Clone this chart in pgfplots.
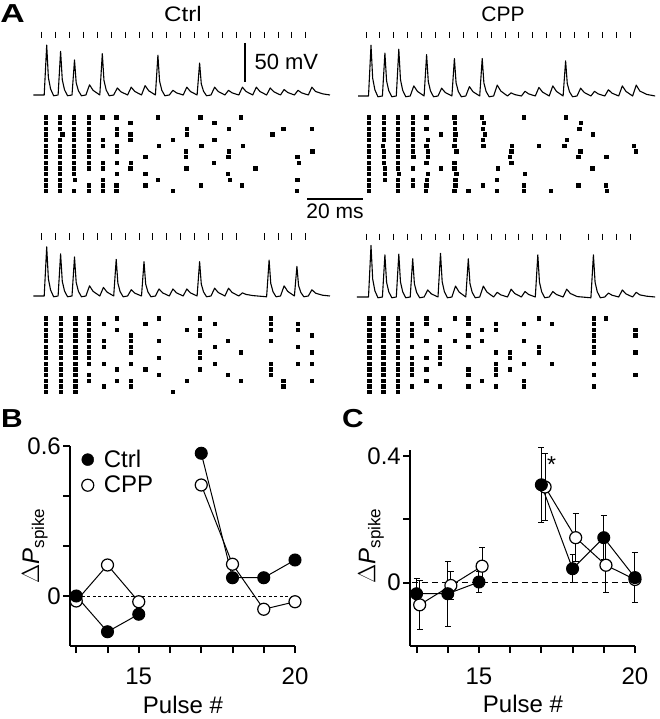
\documentclass[border=0pt]{standalone}
\usepackage{pgfplots}
\pgfplotsset{compat=1.18}
\usepackage{fontspec}
\setmainfont{Liberation Sans}
\pgfplotsset{
  trace/.style={hide axis, x=2.78pt, y=0.78pt, xmin=-4, xmax=105, ymin=-10, ymax=85, clip=false, anchor=south west},
  raster/.style={hide axis, x=2.78pt, y=5.65pt, xmin=-4, xmax=105, ymin=-15, ymax=0, clip=false, anchor=south west},
  tr/.style={black, line width=1.1pt, line join=round},
  stim/.style={only marks, mark=|, mark size=3.3pt, mark options={line width=0.9pt}},
  dots/.style={only marks, mark=square*, mark size=1.65pt},
  panel/.style={anchor=south west, axis lines*=left, axis line style={-, line width=2.5pt},
    tick align=outside, major tick length=7pt, tick style={line width=2pt, black},
    ticklabel style={font=\fontsize{24}{28}\selectfont},
    xticklabel style={yshift=-11pt}, yticklabel style={inner sep=2pt},
    xtick={13,...,20}, xticklabels={,,15,,,,,20},
    xlabel={Pulse \#}, label style={font=\fontsize{24}{28}\selectfont},
    clip=false},
  ctrl/.style={black, line width=1pt, mark=*, mark size=6pt, mark options={fill=black, line width=1pt}},
  cpp/.style={black, line width=1pt, mark=*, mark size=6pt, mark options={fill=white, draw=black, line width=1.2pt}},
}
\newcommand{\dP}{$\Delta$\textit{P}\raisebox{-0.4ex}{\fontsize{17}{17}\selectfont spike}}
\begin{document}
\begin{tikzpicture}[x=1pt,y=1pt]
\useasboundingbox (0pt,0pt) rectangle (659pt,719pt);
% ---------------- Panel A ----------------
\node[font=\fontsize{26}{28}\selectfont\bfseries] at (12.5pt,705.5pt) {\scalebox{1.3}[1]{A}};
\node[font=\fontsize{21}{24}\selectfont] at (183pt,705pt) {\scalebox{1.15}[1]{Ctrl}};
\node[font=\fontsize{21}{24}\selectfont] at (503pt,705pt) {CPP};

% Ctrl top trace
\begin{axis}[trace, at={(30.58pt,616.2pt)}]
\addplot[stim] coordinates {(0,77)(5,77)(10,77)(15,77)(20,77)(25,77)(30,77)(35,77)(40,77)(45,77)(50,77)(55,77)(60,77)(65,77)(70,77)(75,77)(80,77)(85,77)(90,77)(95,77)};
\addplot[tr] coordinates {(-3,0)
(0.9,0)(1.8,64)(2.4,22.4)(3.2,7.7)(4.3,-1)
(5.9,0)(6.8,56)(7.4,19.6)(8.2,6.7)(9.3,-1)
(10.9,0)(11.8,45)(12.4,15.8)(13.2,5.4)(14.3,-1)
(15.9,0)(17.2,13)(18.5,5.9)
(20.9,0)(21.8,53)(22.4,18.6)(23.2,6.4)(24.3,-1)
(25.9,0)(27.2,9)(28.5,4.1)
(30.9,0)(32.2,10)(33.5,4.5)
(35.9,0)(37.2,12)(38.5,5.4)
(40.9,0)(41.8,51)(42.4,17.9)(43.2,6.1)(44.3,-1)
(45.9,0)(47.2,6)(48.5,2.7)
(50.9,0)(52.2,10)(53.5,4.5)
(55.9,0)(56.8,41)(57.4,14.4)(58.2,4.9)(59.3,-1)
(60.9,0)(62.2,10)(63.5,4.5)
(65.9,0)(67.2,6)(68.5,2.7)
(70.9,0)(72.2,10)(73.5,4.5)
(75.9,0)(77.2,10)(78.5,4.5)
(80.9,0)(82.2,9)(83.5,4.1)
(85.9,0)(87.2,7)(88.5,3.2)
(90.9,0)(92.2,6)(93.5,2.7)
(95.9,0)(97.2,10)(98.5,4.5)
(101,1.5)(103.7,0)};
\end{axis}
% CPP top trace
\begin{axis}[trace, at={(354.88pt,615.2pt)}]
\addplot[stim] coordinates {(0,78)(5,78)(10,78)(15,78)(20,78)(25,78)(30,78)(35,78)(40,78)(45,78)(50,78)(55,78)(60,78)(65,78)(70,78)(75,78)(80,78)(85,78)(90,78)(95,78)};
\addplot[tr] coordinates {(-2.8,0)
(0.9,0)(1.8,65)(2.4,22.8)(3.2,7.8)(4.3,-1)
(5.9,0)(6.8,55)(7.4,19.3)(8.2,6.6)(9.3,-1)
(10.9,0)(11.8,60)(12.4,21)(13.2,7.2)(14.3,-1)
(15.9,0)(17.2,13)(18.5,5.9)
(20.9,0)(21.8,53)(22.4,18.6)(23.2,6.4)(24.3,-1)
(25.9,0)(27.2,10)(28.5,4.5)
(30.9,0)(31.8,48)(32.4,16.8)(33.2,5.8)(34.3,-1)
(35.9,0)(37.2,12)(38.5,5.4)
(40.9,0)(41.8,48)(42.4,16.8)(43.2,5.8)(44.3,-1)
(45.9,0)(47.2,14)(48.5,6.3)
(50.9,0)(52.2,4)(53.5,1.8)
(55.9,0)(57.2,6)(58.5,2.7)
(60.9,0)(62.2,11)(63.5,5)
(65.9,0)(67.2,13)(68.5,5.9)
(70.9,0)(71.8,45)(72.4,15.8)(73.2,5.4)(74.3,-1)
(75.9,0)(77.2,10)(78.5,4.5)
(80.9,0)(82.2,6)(83.5,2.7)
(85.9,0)(87.2,8)(88.5,3.6)
(90.9,0)(92.2,13)(93.5,5.9)
(95.9,0)(97.2,14)(98.5,6.3)
(101,2)(104,0)};
\end{axis}
% Ctrl bottom trace
\begin{axis}[trace, at={(30.58pt,415.2pt)}]
\addplot[stim] coordinates {(0,76)(5,76)(10,76)(15,76)(20,76)(25,76)(30,76)(35,76)(40,76)(45,76)(50,76)(55,76)(60,76)(65,76)(70,76)(80,76)(85,76)(90,76)(95,76)};
\addplot[tr] coordinates {(-3,0)
(0.9,0)(1.8,63)(2.4,22)(3.2,7.6)(4.3,-1)
(5.9,0)(6.8,54)(7.4,18.9)(8.2,6.5)(9.3,-1)
(10.9,0)(11.8,50)(12.4,17.5)(13.2,6)(14.3,-1)
(15.9,0)(17.2,13)(18.5,5.9)
(20.9,0)(22.2,11)(23.5,5)
(25.9,0)(26.8,47)(27.4,16.5)(28.2,5.6)(29.3,-1)
(30.9,0)(32.2,8)(33.5,3.6)
(35.9,0)(36.8,44)(37.4,15.4)(38.2,5.3)(39.3,-1)
(40.9,0)(42.2,9)(43.5,4)
(45.9,0)(47.2,9)(48.5,4)
(50.9,0)(52.2,9)(53.5,4)
(55.9,0)(56.8,44)(57.4,15.4)(58.2,5.3)(59.3,-1)
(60.9,0)(62.2,10)(63.5,4.5)
(65.9,0)(67.2,10)(68.5,4.5)
(70.9,0)(72.2,4)(73.5,2)
(76,0.5)(80.9,-1)
(81.8,46)(82.4,16.1)(83.2,5.5)(84.3,-1)
(85.9,0)(87.2,13)(88.5,5.9)
(90.9,0)(91.8,38)(92.4,13.3)(93.2,4.6)(94.3,-1)
(95.9,0)(97.2,8)(98.5,3.6)
(101,1)(103.7,0)};
\end{axis}
% CPP bottom trace
\begin{axis}[trace, at={(354.88pt,414.2pt)}]
\addplot[stim] coordinates {(0,77)(5,77)(10,77)(15,77)(20,77)(25,77)(30,77)(35,77)(40,77)(45,77)(50,77)(55,77)(60,77)(65,77)(70,77)(80,77)(85,77)(90,77)(95,77)};
\addplot[tr] coordinates {(-3.3,0)
(0.9,0)(1.8,66)(2.4,23.1)(3.2,7.9)(4.3,-1)
(5.9,0)(6.8,54)(7.4,18.9)(8.2,6.5)(9.3,-1)
(10.9,0)(11.8,55)(12.4,19.3)(13.2,6.6)(14.3,-1)
(15.9,0)(16.8,49)(17.4,17.2)(18.2,5.9)(19.3,-1)
(20.9,0)(22.2,9)(23.5,4)
(25.9,0)(26.8,56)(27.4,19.6)(28.2,6.7)(29.3,-1)
(30.9,0)(32.2,14)(33.5,6.3)
(35.9,0)(36.8,49)(37.4,17.2)(38.2,5.9)(39.3,-1)
(40.9,0)(42.2,14)(43.5,6.3)
(45.9,0)(47.2,6)(48.5,2.7)
(50.9,0)(52.2,10)(53.5,4.5)
(55.9,0)(57.2,7)(58.5,3.2)
(60.9,0)(61.8,54)(62.4,18.9)(63.2,6.5)(64.3,-1)
(65.9,0)(67.2,7)(68.5,3.2)
(70.9,0)(72.2,10)(73.5,4.5)
(76,0.5)(80.9,-1)
(81.8,54)(82.4,18.9)(83.2,6.5)(84.3,-1)
(85.9,0)(87.2,5)(88.5,2.3)
(90.9,0)(92.2,9)(93.5,4)
(95.9,0)(97.2,6)(98.5,2.7)
(101,1)(104,0)};
\end{axis}

% Ctrl top raster
\begin{axis}[raster, at={(30.58pt,522.6pt)}]
\addplot[dots] coordinates {
(1.43,-1)(6.58,-1)(11.6,-1)(16.9,-1)(21.8,-1)(26.8,-1)(41.7,-1)(57.0,-1)(71.7,-1)
(1.43,-2)(6.58,-2)(11.6,-2)(16.9,-2)(31.8,-2)(62.1,-2)
(1.43,-3)(6.58,-3)(11.6,-3)(16.9,-3)(27.1,-3)(52.1,-3)(67.3,-3)(86.9,-3)(97.0,-3)
(1.43,-4)(7.42,-4)(11.6,-4)(16.9,-4)(27.1,-4)(31.8,-4)(52.1,-4)(82.9,-4)
(1.43,-5)(6.58,-5)(11.6,-5)(16.9,-5)(22.0,-5)(31.8,-5)(47.1,-5)(62.1,-5)
(1.43,-6)(6.58,-6)(11.6,-6)(16.9,-6)(22.0,-6)(27.1,-6)(42.1,-6)(57.4,-6)(72.2,-6)
(1.43,-7)(6.58,-7)(11.6,-7)(16.9,-7)(27.1,-7)(51.8,-7)(67.3,-7)(97.3,-7)
(1.43,-8)(6.58,-8)(11.6,-8)(16.9,-8)(37.2,-8)(51.8,-8)(67.1,-8)(91.9,-8)
(1.43,-9)(6.58,-9)(11.6,-9)(16.9,-9)(22.0,-9)(27.1,-9)(32.1,-9)(61.9,-9)(92.4,-9)
(1.43,-10)(6.58,-10)(11.6,-10)(16.9,-10)(22.0,-10)(31.8,-10)(52.0,-10)(76.8,-10)
(1.43,-11)(6.58,-11)(11.6,-11)(27.1,-11)(37.2,-11)(66.9,-11)
(1.43,-12)(6.58,-12)(11.9,-12)(22.0,-12)(41.7,-12)(67.5,-12)(91.9,-12)
(1.43,-13)(6.58,-13)(16.9,-13)(22.0,-13)(26.8,-13)(37.2,-13)(57.1,-13)(71.9,-13)
(1.43,-14)(6.58,-14)(11.6,-14)(16.9,-14)(22.0,-14)(26.8,-14)(47.1,-14)(91.8,-14)};
\end{axis}
% CPP top raster
\begin{axis}[raster, at={(354.88pt,522.6pt)}]
\addplot[dots] coordinates {
(1.08,-1)(6.36,-1)(11.4,-1)(16.8,-1)(21.6,-1)(31.7,-1)(41.6,-1)(56.8,-1)(71.9,-1)
(1.08,-2)(6.36,-2)(11.4,-2)(16.8,-2)(31.9,-2)(42.3,-2)(77.2,-2)
(1.08,-3)(6.36,-3)(11.4,-3)(16.8,-3)(21.6,-3)(31.9,-3)(42.0,-3)(76.7,-3)
(1.08,-4)(6.36,-4)(11.4,-4)(16.8,-4)(26.9,-4)(32.1,-4)(42.6,-4)(81.5,-4)
(1.08,-5)(6.36,-5)(11.4,-5)(16.8,-5)(22.1,-5)(31.9,-5)(42.0,-5)(72.3,-5)
(1.08,-6)(6.12,-6)(11.4,-6)(16.8,-6)(21.6,-6)(31.7,-6)(42.2,-6)(52.4,-6)(62.1,-6)(71.3,-6)(96.3,-6)
(1.08,-7)(6.36,-7)(11.4,-7)(16.8,-7)(22.1,-7)(32.4,-7)(52.2,-7)(77.1,-7)(97.1,-7)
(1.08,-8)(6.36,-8)(11.4,-8)(17.0,-8)(22.1,-8)(51.7,-8)(76.3,-8)(86.4,-8)
(1.08,-9)(6.36,-9)(11.4,-9)(21.6,-9)(31.7,-9)(52.2,-9)
(1.08,-10)(6.83,-10)(11.4,-10)(16.8,-10)(26.9,-10)(31.7,-10)(47.4,-10)(81.4,-10)
(1.08,-11)(6.6,-11)(11.8,-11)(22.1,-11)(32.4,-11)(57.1,-11)
(1.08,-12)(6.6,-12)(11.4,-12)(16.8,-12)(21.8,-12)(32.1,-12)(47.1,-12)
(1.08,-13)(11.4,-13)(16.8,-13)(21.6,-13)(32.1,-13)(42.0,-13)(56.6,-13)(76.3,-13)(86.2,-13)
(1.08,-14)(11.4,-14)(21.4,-14)(31.7,-14)(36.8,-14)(46.9,-14)(56.6,-14)(66.5,-14)(86.7,-14)};
\end{axis}
% Ctrl bottom raster
\begin{axis}[raster, at={(30.58pt,321.6pt)}]
\addplot[dots] coordinates {
(1.55,-1)(6.8,-1)(12,-1)(16.8,-1)(27,-1)(42,-1)(56.9,-1)(82.4,-1)
(1.55,-2)(6.8,-2)(12,-2)(16.8,-2)(22.2,-2)(37.2,-2)(62.3,-2)(82.4,-2)(92.1,-2)
(1.55,-3)(6.8,-3)(12,-3)(16.8,-3)(27,-3)(52.2,-3)(56.9,-3)(82.4,-3)(92.1,-3)
(1.55,-4)(6.8,-4)(12,-4)(16.8,-4)(32.1,-4)(56.9,-4)(97.1,-4)
(1.55,-5)(6.8,-5)(12,-5)(16.8,-5)(22.2,-5)(32.1,-5)(42,-5)(66.9,-5)(82.4,-5)
(1.55,-6)(6.8,-6)(12,-6)(16.8,-6)(22.2,-6)(32.1,-6)(62.3,-6)(92.1,-6)
(1.55,-7)(6.8,-7)(12,-7)(16.8,-7)(32.1,-7)(56.9,-7)(71.6,-7)(97.1,-7)
(1.55,-8)(6.8,-8)(12,-8)(16.8,-8)(42,-8)(56.9,-8)
(1.55,-9)(6.8,-9)(12,-9)(16.8,-9)(22.2,-9)(32.1,-9)(62.3,-9)(82.4,-9)(92.1,-9)(97.1,-9)
(1.55,-10)(6.8,-10)(12,-10)(27,-10)(37.2,-10)(56.9,-10)(82.4,-10)
(1.55,-11)(6.8,-11)(12,-11)(16.8,-11)(42,-11)(66.9,-11)(82.4,-11)
(1.55,-12)(6.8,-12)(12,-12)(16.8,-12)(27,-12)(32.1,-12)(52.2,-12)(71.6,-12)(86.9,-12)(97.1,-12)
(1.55,-13)(6.8,-13)(12,-13)(22.2,-13)(32.1,-13)(86.9,-13)
(1.55,-14)(6.8,-14)(12,-14)(47.1,-14)};
\end{axis}
% CPP bottom raster
\begin{axis}[raster, at={(354.88pt,321.6pt)}]
\addplot[dots] coordinates {
(1.2,-1)(6.2,-1)(11.4,-1)(21.6,-1)(32,-1)(36.8,-1)(62,-1)(81.8,-1)(86.3,-1)
(1.2,-2)(6.2,-2)(11.4,-2)(16.4,-2)(21.6,-2)(36.8,-2)(46.6,-2)(56.6,-2)(66.8,-2)(81.8,-2)
(1.2,-3)(6.2,-3)(11.4,-3)(16.4,-3)(26.6,-3)(41.6,-3)(46.6,-3)(81.8,-3)(96.8,-3)
(1.2,-4)(6.2,-4)(11.4,-4)(16.4,-4)(36.8,-4)(81.8,-4)(96.8,-4)
(1.2,-5)(6.2,-5)(11.4,-5)(21.6,-5)(32,-5)(41.6,-5)(56.6,-5)(81.8,-5)
(1.2,-6)(6.2,-6)(11.4,-6)(16.4,-6)(26.6,-6)(36.8,-6)(62,-6)(81.8,-6)
(1.2,-7)(6.2,-7)(11.4,-7)(26.6,-7)(46.6,-7)(51.8,-7)(62,-7)(81.8,-7)(96.8,-7)
(1.2,-8)(6.2,-8)(11.4,-8)(16.4,-8)(21.6,-8)(26.6,-8)(51.8,-8)
(1.2,-9)(6.2,-9)(11.4,-9)(16.4,-9)(26.6,-9)(46.6,-9)(56.6,-9)(66.8,-9)(81.8,-9)
(1.2,-10)(6.2,-10)(11.4,-10)(16.4,-10)(21.6,-10)(36.8,-10)(46.6,-10)(51.8,-10)
(1.2,-11)(6.2,-11)(11.4,-11)(16.4,-11)(36.8,-11)(46.6,-11)(81.8,-11)(96.8,-11)
(1.2,-12)(6.2,-12)(11.4,-12)(21.6,-12)(41.6,-12)(56.6,-12)
(1.2,-13)(6.2,-13)(11.4,-13)(16.4,-13)(26.6,-13)(36.8,-13)(46.6,-13)(56.6,-13)(81.8,-13)
(1.2,-14)(6.2,-14)(11.4,-14)};
\end{axis}

% scale bars
\draw[line width=2.5pt] (245pt,676pt) -- (245pt,637pt);
\node[font=\fontsize{22}{24}\selectfont, anchor=west] at (251pt,657pt) {50 mV};
\draw[line width=2pt] (307pt,520pt) -- (363pt,520pt);
\node[font=\fontsize{21}{24}\selectfont] at (335pt,508pt) {20 ms};

% ---------------- Panel B ----------------
\node[font=\fontsize{26}{28}\selectfont\bfseries] at (12pt,300pt) {\scalebox{1.15}[1]{B}};
\begin{axis}[panel, at={(70pt,73pt)}, x=31.25pt, y=250pt, xmin=12.8, xmax=20, ymin=-0.2, ymax=0.6,
  ytick={0,0.2,0.4,0.6}, yticklabels={0\hspace{7pt},,,0.6},
  ylabel={\dP},
  xlabel style={at={(axis description cs:0.502,-0.295)}, anchor=center},
  ylabel style={at={(axis description cs:-0.156,0.5)}, anchor=center},
  legend style={at={(axis cs:13.17,0.592)}, anchor=north west, draw=none, fill=none,
    font=\fontsize{24}{28}\selectfont, row sep=3pt, inner sep=0pt,
    /tikz/every odd column/.append style={column sep=8pt}},
  legend cell align=left]
\addplot[forget plot, black, line width=0.8pt, dash pattern=on 3pt off 2.5pt] coordinates {(13,0)(20,0)};
\addplot[cpp, forget plot] coordinates {(13,-0.02)(14,0.124)(15,-0.023)};
\addplot[cpp, forget plot] coordinates {(17,0.444)(18,0.127)(19,-0.053)(20,-0.023)};
\addplot[ctrl, forget plot] coordinates {(13,0)(14,-0.143)(15,-0.073)};
\addplot[ctrl, forget plot] coordinates {(17,0.571)(18,0.073)(19,0.073)(20,0.144)};
\addlegendimage{only marks, mark=*, mark size=6pt, mark options={fill=black}}
\addlegendentry{Ctrl}
\addlegendimage{only marks, mark=*, mark size=6pt, mark options={fill=white, draw=black, line width=1.2pt}}
\addlegendentry{CPP}
\end{axis}

% ---------------- Panel C ----------------
\node[font=\fontsize{26}{28}\selectfont\bfseries] at (353pt,300pt) {\scalebox{1.15}[1]{C}};
\begin{axis}[panel, at={(410pt,73pt)}, x=31.2pt, y=316.7pt, xmin=12.79, xmax=20, ymin=-0.2, ymax=0.42,
  ytick={0,0.2,0.4}, yticklabels={0\hspace{7pt},,0.4},
  ylabel={\dP},
  xlabel style={at={(axis description cs:0.502,-0.295)}, anchor=center},
  ylabel style={at={(axis description cs:-0.173,0.509)}, anchor=center}]
\addplot[black, line width=1pt, dash pattern=on 6pt off 4pt] coordinates {(12.85,0)(20,0)};
\addplot[cpp, error bars/.cd, y dir=both, y explicit, error bar style={line width=1pt},
  error mark options={rotate=90, mark size=3pt, line width=1pt}] coordinates
  {(13.1,-0.07) +- (0,0.077) (14.1,-0.009) +- (0,0.045) (15.1,0.052) +- (0,0.058)};
\addplot[cpp, error bars/.cd, y dir=both, y explicit, error bar style={line width=1pt},
  error mark options={rotate=90, mark size=3pt, line width=1pt}] coordinates
  {(17.12,0.302) +- (0,0.105) (18.1,0.142) +- (0,0.076) (19.07,0.055) +- (0,0.085) (20,0.01) +- (0,0)};
\addplot[ctrl, error bars/.cd, y dir=both, y explicit, error bar style={line width=1pt},
  error mark options={rotate=90, mark size=3pt, line width=1pt}] coordinates
  {(13,-0.035) +- (0,0.048) (14,-0.035) +- (0,0.103) (15,0.002) +- (0,0.032)};
\addplot[ctrl, error bars/.cd, y dir=both, y explicit, error bar style={line width=1pt},
  error mark options={rotate=90, mark size=3pt, line width=1pt}] coordinates
  {(17,0.309) +- (0,0.119) (18,0.044) +- (0,0.045) (19,0.142) +- (0,0.07) (20,0.016) +- (0,0.078)};
\node[font=\fontsize{23}{23}\selectfont, anchor=north] at (axis cs:17.33,0.41) {*};
\end{axis}
\end{tikzpicture}
\end{document}
